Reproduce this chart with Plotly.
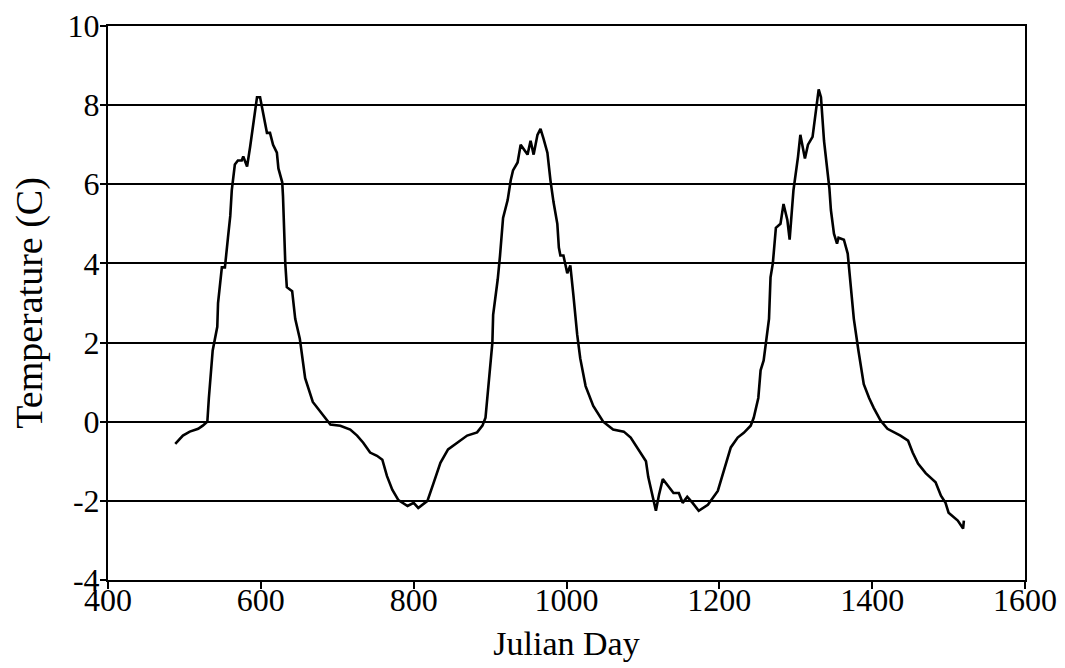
import plotly.graph_objects as go

julian_day = [488, 498, 507, 518, 524, 530, 532, 537, 543, 544, 549, 553, 557, 560, 562, 566, 570, 575, 577, 582,
              586, 590, 595, 599, 603, 608, 612, 616, 621, 623, 628, 629, 632, 634, 641, 645, 651, 658, 668, 678,
              691, 704, 717, 726, 734, 743, 752, 759, 765, 772, 780, 792, 800, 806, 818, 826, 835, 845, 857, 870,
              883, 890, 894, 898, 903, 904, 910, 913, 917, 923, 927, 930, 936, 940, 944, 949, 953, 957, 962, 966,
              970, 975, 979, 983, 988, 990, 992, 996, 1001, 1005, 1009, 1014, 1018, 1025, 1035, 1048, 1061, 1075,
              1084, 1094, 1100, 1104, 1107, 1113, 1117, 1121, 1126, 1132, 1140, 1147, 1152, 1158, 1165, 1173, 1185,
              1198, 1206, 1215, 1224, 1232, 1241, 1245, 1251, 1254, 1258, 1261, 1265, 1267, 1270, 1274, 1280, 1284,
              1289, 1292, 1297, 1303, 1306, 1312, 1316, 1322, 1326, 1330, 1333, 1337, 1344, 1346, 1350, 1354, 1356,
              1363, 1368, 1372, 1376, 1382, 1389, 1396, 1402, 1411, 1420, 1437, 1447, 1453, 1460, 1470, 1483, 1490,
              1496, 1500, 1512, 1519, 1520]
temperature = [-0.56, -0.35, -0.25, -0.18, -0.1, 0.0, 0.6, 1.8, 2.4, 3.0, 3.9, 3.9, 4.65, 5.2, 5.85, 6.5, 6.6, 6.6, 6.7, 6.45,
               6.95, 7.5, 8.2, 8.2, 7.8, 7.3, 7.3, 7.0, 6.8, 6.4, 6.05, 5.7, 4.0, 3.4, 3.3, 2.6, 2.1, 1.1, 0.5, 0.25,
               -0.07, -0.1, -0.2, -0.35, -0.53, -0.78, -0.86, -0.96, -1.37, -1.72, -1.98, -2.13, -2.05, -2.18, -2.0, -1.55, -1.04, -0.7, -0.53, -0.35,
               -0.27, -0.1, 0.1, 0.95, 2.0, 2.7, 3.6, 4.2, 5.15, 5.6, 6.1, 6.35, 6.55, 7.0, 6.9, 6.75, 7.1, 6.75, 7.25, 7.4,
               7.15, 6.8, 6.1, 5.55, 5.0, 4.4, 4.2, 4.2, 3.75, 3.95, 3.2, 2.2, 1.6, 0.9, 0.4, 0.0, -0.2, -0.25,
               -0.4, -0.7, -0.85, -1.0, -1.4, -1.9, -2.25, -1.85, -1.45, -1.6, -1.8, -1.8, -2.05, -1.9, -2.05, -2.25, -2.1,
               -1.75, -1.2, -0.65, -0.4, -0.28, -0.1, 0.1, 0.6, 1.3, 1.55, 1.95, 2.6, 3.65, 4.0, 4.9, 5.0, 5.5,
               5.1, 4.6, 5.85, 6.7, 7.25, 6.65, 7.0, 7.2, 7.8, 8.4, 8.2, 7.1, 5.9, 5.35, 4.75, 4.5, 4.65,
               4.6, 4.25, 3.4, 2.6, 1.8, 0.95, 0.6, 0.35, 0.03, -0.18, -0.35, -0.48, -0.78, -1.06, -1.3, -1.53, -1.87,
               -2.05, -2.3, -2.5, -2.7, -2.5]

x_ticks = [400, 600, 800, 1000, 1200, 1400, 1600]
y_ticks = [-4, -2, 0, 2, 4, 6, 8, 10]

FONT = "Liberation Serif"

fig = go.Figure()
fig.add_trace(go.Scatter(x=julian_day, y=temperature, mode="lines",
                         line=dict(color="black", width=2.6), showlegend=False))

# page body has an 8px margin, so figure is sized/offset to compensate
fig.update_layout(
    width=1057, height=660,
    margin=dict(l=100, r=40, t=18, b=88, autoexpand=False),
    paper_bgcolor="white", plot_bgcolor="white",
    font=dict(family=FONT, size=32, color="black"),
)
fig.update_xaxes(
    range=[400, 1600], tickvals=x_ticks, ticktext=[str(v) for v in x_ticks],
    showgrid=False, zeroline=False, automargin=False,
    showline=True, linecolor="black", linewidth=2, mirror=True,
    ticks="outside", ticklen=7, tickwidth=2, tickcolor="black",
    ticklabelstandoff=-16,
    tickfont=dict(family=FONT, size=32, color="black"),
    title=dict(text="Julian Day", font=dict(family=FONT, size=34, color="black"), standoff=14),
)
fig.update_yaxes(
    range=[-4, 10], tickvals=y_ticks, ticktext=[str(v) for v in y_ticks],
    showgrid=True, gridcolor="black", gridwidth=2, zeroline=False, automargin=False,
    showline=True, linecolor="black", linewidth=2, mirror=True,
    ticks="outside", ticklen=6, tickwidth=2, tickcolor="black",
    ticklabelstandoff=-6,
    tickfont=dict(family=FONT, size=32, color="black"),
    title=dict(text="Temperature (C)", font=dict(family=FONT, size=38, color="black"), standoff=14),
)

fig.write_html("out.html")
